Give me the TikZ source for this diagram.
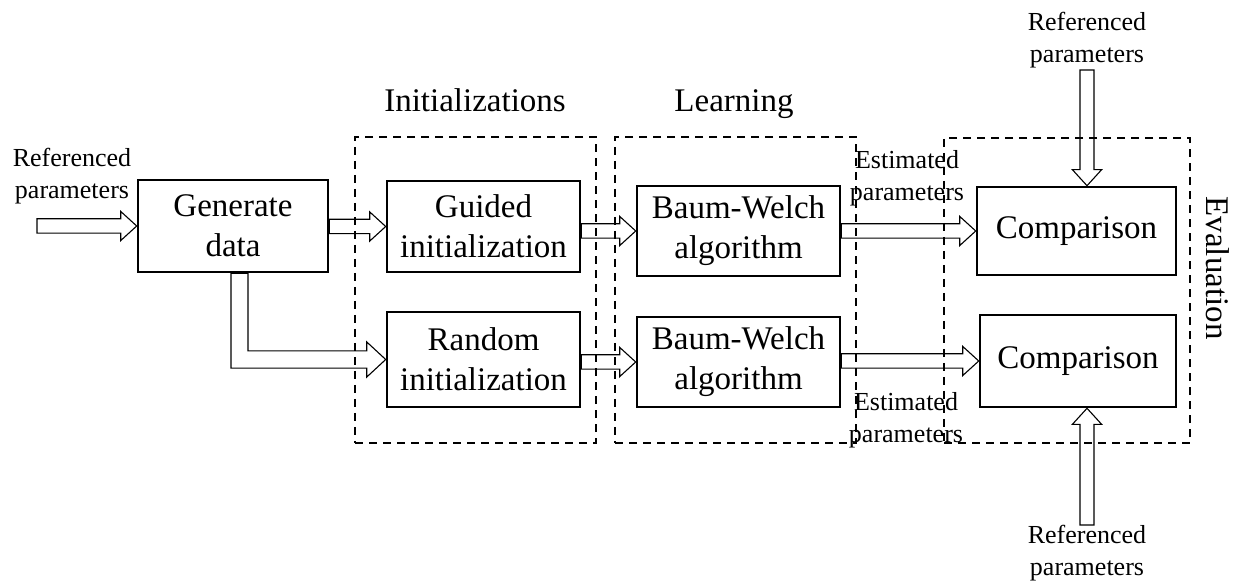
\documentclass[tikz,border=0pt]{standalone}
\usepackage{fontspec}
\setmainfont{Liberation Serif}
\usepackage{tikz}
\usetikzlibrary{arrows.meta, positioning, calc}

% hollow block arrows: start, tip
\newcommand{\harr}[2]{%
  \draw[hollow] let \p1=(#1), \p2=(#2) in
    (\x1,\y2+3.6pt) -- (\x2-8pt,\y2+3.6pt) -- (\x2-8pt,\y2+7.3pt) -- (\p2)
    -- (\x2-8pt,\y2-7.3pt) -- (\x2-8pt,\y2-3.6pt) -- (\x1,\y2-3.6pt) -- cycle;}
% vertical: start, tip, 1 = down / -1 = up
\newcommand{\varr}[3]{%
  \draw[hollow] let \p1=(#1), \p2=(#2) in
    (\x2+3.5pt,\y1) -- (\x2+3.5pt,\y2+#3*8pt) -- (\x2+7.3pt,\y2+#3*8pt) -- (\p2)
    -- (\x2-7.3pt,\y2+#3*8pt) -- (\x2-3.5pt,\y2+#3*8pt) -- (\x2-3.5pt,\y1) -- cycle;}

\begin{document}
\begin{tikzpicture}[
          x=0.5pt, y=-0.5pt,
          block/.style={rectangle, draw, line width=1.3pt, inner sep=0pt, align=center,
                        font=\fontsize{16.5}{20}\selectfont},
          group/.style={rectangle, draw, dash pattern=on 4pt off 3pt, line width=0.9pt, inner sep=0pt},
          head/.style={font=\fontsize{16.5}{20}\selectfont},
          note/.style={align=center, inner sep=0pt, font=\fontsize{13}{16}\selectfont},
          hollow/.style={draw, line width=0.55pt, line join=miter},
          >=Stealth
        ]
        \useasboundingbox (0,0) rectangle (1236,582);

        % dashed groups
        \node [group, minimum width=120.5pt, minimum height=153pt] (initbox) at (475.5,290) {};
        \node [group, minimum width=120.5pt, minimum height=153pt] (learnbox) at (735.5,290) {};
        \node [group, minimum width=123pt, minimum height=152.5pt] (evalbox) at (1067,290.5) {};
        \node [head, anchor=base] (inithead) at (475,112) {Initializations};
        \node [head, anchor=base] (learnhead) at (734,112) {Learning};
        \node [head, rotate=-90] (evalhead) at (1218,268) {Evaluation};

        % blocks
        \node [block, minimum width=95pt, minimum height=46pt] (gen) at (233,226) {Generate\\data};
        \node [block, minimum width=96.5pt, minimum height=45.5pt] (guided) at (483.5,226.5) {Guided\\initialization};
        \node [block, minimum width=96.5pt, minimum height=47.5pt] (random) at (483.5,359.5) {Random\\initialization};
        \node [block, minimum width=101.5pt, minimum height=45pt] (bw1) at (738.5,231) {Baum-Welch\\algorithm};
        \node [block, minimum width=101.5pt, minimum height=45pt] (bw2) at (738.5,362) {Baum-Welch\\algorithm};
        \node [block, minimum width=99.5pt, minimum height=44pt] (comp1) at (1076.5,231) {Comparison};
        \node [block, minimum width=98pt, minimum height=46pt] (comp2) at (1078,361) {Comparison};

        % labels
        \node [note] (refin) at (72,176) {Referenced\\parameters};
        \node [note] (reftop) at (1087,40) {Referenced\\parameters};
        \node [note] (refbot) at (1087,553) {Referenced\\parameters};
        \node [note] (est1) at (907,178) {Estimated\\parameters};
        \node [note] (est2) at (906,420) {Estimated\\parameters};

        \coordinate (in) at (37,226);
        \coordinate (top) at (1087,70);
        \coordinate (bot) at (1087,525);

        % arrows
        \harr{in}{gen.west}
        \harr{gen.east}{guided.west}
        \harr{guided.east}{bw1.west}
        \harr{random.east}{bw2.west}
        \harr{bw1.east}{comp1.west}
        \harr{bw2.east}{comp2.west}
        \varr{top}{top |- comp1.north}{1}
        \varr{bot}{bot |- comp2.south}{-1}
        \draw [hollow] let \p1=(gen.south), \p2=(random.west) in
          (\x1-1pt,\y1) -- (\x1-1pt,\y2-4.3pt) -- (\x2-9.5pt,\y2-4.3pt) -- (\x2-9.5pt,\y2-8.8pt) -- (\p2)
          -- (\x2-9.5pt,\y2+8.8pt) -- (\x2-9.5pt,\y2+4.3pt) -- (\x1+7.5pt,\y2+4.3pt) -- (\x1+7.5pt,\y1) -- cycle;
        \end{tikzpicture}
\end{document}
